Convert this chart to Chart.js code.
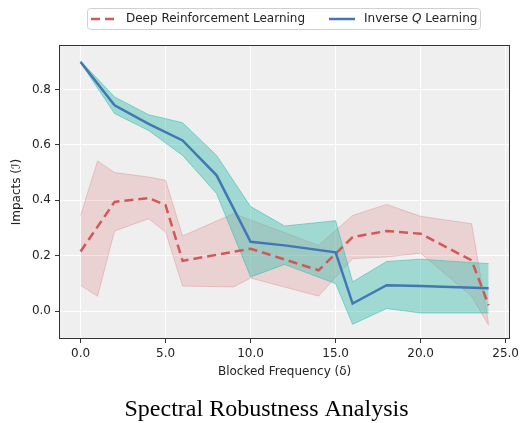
<!DOCTYPE html>
<html>
<head>
<meta charset="utf-8">
<script src="https://cdn.jsdelivr.net/npm/chart.js@4.4.1/dist/chart.umd.min.js"></script>
<style>
    html, body { margin: 0; padding: 0; background: #fff; }
</style>
</head>
<body>
<canvas id="grafico" width="523" height="423"></canvas>
<script>
// Dados
const xTicks = [0, 5, 10, 15, 20, 25];
const yTicks = [0, 0.2, 0.4, 0.6, 0.8];

// Deep Reinforcement Learning (linha tracejada + faixa)
const redLineX = [0, 2, 4, 5, 6, 10, 14, 16, 18, 20, 23, 24];
const redMean = [0.215, 0.394, 0.408, 0.382, 0.181, 0.225, 0.147, 0.267, 0.289, 0.279, 0.183, 0.021];
const redBandX = [0, 1, 2, 4, 5, 6, 9, 10, 14, 16, 18, 20, 23, 24];
const redUpper = [0.345, 0.542, 0.500, 0.484, 0.472, 0.271, 0.352, 0.329, 0.237, 0.345, 0.385, 0.342, 0.315, -0.045];
const redLower = [0.093, 0.053, 0.289, 0.333, 0.285, 0.090, 0.087, 0.119, 0.054, 0.189, 0.195, 0.209, 0.053, -0.052];

// Inverse Q Learning (linha sólida + faixa)
const blueX = [0, 2, 4, 6, 8, 10, 12, 15, 16, 18, 20, 24];
const blueMean = [0.899, 0.743, 0.676, 0.616, 0.490, 0.250, 0.237, 0.212, 0.027, 0.093, 0.090, 0.082];
const blueUpper = [0.903, 0.773, 0.709, 0.680, 0.562, 0.377, 0.307, 0.326, 0.105, 0.179, 0.187, 0.171];
const blueLower = [0.897, 0.713, 0.652, 0.562, 0.424, 0.123, 0.168, 0.099, -0.048, 0.009, -0.007, -0.007];

const pts = (xs, ys) => xs.map((x, i) => ({ x: x, y: ys[i] }));

const colorRed = '#d45757';
const colorBlue = '#4178b4';
const fillRed = 'rgba(214, 95, 95, 0.2)';
const edgeRed = 'rgba(214, 95, 95, 0.28)';
const fillTeal = 'rgba(64, 190, 176, 0.45)';
const edgeTeal = 'rgba(64, 190, 176, 0.6)';

Chart.defaults.font.family = "'DejaVu Sans', sans-serif";
Chart.defaults.font.size = 12;
Chart.defaults.color = '#222';

// Fundo cinza e moldura da área do gráfico
const moldura = {
    id: 'moldura',
    beforeDraw(chart) {
        const { ctx, chartArea: a } = chart;
        ctx.save();
        ctx.fillStyle = '#efefef';
        ctx.fillRect(a.left, a.top, a.right - a.left, a.bottom - a.top);
        ctx.restore();
    },
    afterDatasetsDraw(chart) {
        const { ctx, chartArea: a } = chart;
        ctx.save();
        ctx.strokeStyle = '#333';
        ctx.lineWidth = 1;
        ctx.strokeRect(Math.round(a.left) - 0.5, Math.round(a.top) - 0.5, Math.round(a.right - a.left) + 1, Math.round(a.bottom - a.top) + 1);
        ctx.restore();
    }
};

// Legenda desenhada à mão (para o Q em itálico)
const legenda = {
    id: 'legenda',
    afterDraw(chart) {
        const ctx = chart.ctx;
        const cy = 19;
        ctx.save();
        ctx.beginPath();
        ctx.roundRect(87.5, 8.5, 393, 21, 3);
        ctx.fillStyle = '#fff';
        ctx.fill();
        ctx.strokeStyle = '#d0d0d0';
        ctx.lineWidth = 1;
        ctx.stroke();

        ctx.lineWidth = 2.5;
        ctx.strokeStyle = colorRed;
        ctx.setLineDash([9, 5]);
        ctx.beginPath();
        ctx.moveTo(91, cy); ctx.lineTo(115, cy);
        ctx.stroke();

        ctx.setLineDash([]);
        ctx.strokeStyle = colorBlue;
        ctx.beginPath();
        ctx.moveTo(329, cy); ctx.lineTo(355, cy);
        ctx.stroke();

        ctx.fillStyle = '#222';
        ctx.textBaseline = 'middle';
        ctx.font = "12px 'DejaVu Sans'";
        ctx.fillText('Deep Reinforcement Learning', 126, cy);
        let x = 364;
        ctx.fillText('Inverse ', x, cy);
        x += ctx.measureText('Inverse ').width;
        ctx.font = "italic 12px 'DejaVu Sans'";
        ctx.fillText('Q', x, cy);
        x += ctx.measureText('Q').width;
        ctx.font = "12px 'DejaVu Sans'";
        ctx.fillText(' Learning', x, cy);
        ctx.restore();
    }
};

const linha = { pointRadius: 0, tension: 0 };

new Chart(document.getElementById('grafico'), {
    type: 'line',
    data: {
        datasets: [
            { ...linha, label: 'drl-upper', data: pts(redBandX, redUpper), borderColor: edgeRed, borderWidth: 1, fill: false, order: 4 },
            { ...linha, label: 'drl-lower', data: pts(redBandX, redLower), borderColor: edgeRed, borderWidth: 1, fill: '-1', backgroundColor: fillRed, order: 4 },
            { ...linha, label: 'iql-upper', data: pts(blueX, blueUpper), borderColor: edgeTeal, borderWidth: 1, fill: false, order: 3 },
            { ...linha, label: 'iql-lower', data: pts(blueX, blueLower), borderColor: edgeTeal, borderWidth: 1, fill: '-1', backgroundColor: fillTeal, order: 3 },
            { ...linha, label: 'Deep Reinforcement Learning', data: pts(redLineX, redMean), borderColor: colorRed, borderWidth: 2.5, borderDash: [9, 5], fill: false, order: 2 },
            { ...linha, label: 'Inverse Q Learning', data: pts(blueX, blueMean), borderColor: colorBlue, borderWidth: 2.5, fill: false, order: 1 }
        ]
    },
    options: {
        responsive: false,
        animation: false,
        layout: { padding: { top: 46, right: 1, left: 11, bottom: 0 } },
        plugins: {
            legend: { display: false },
            tooltip: { enabled: false },
            title: {
                display: true,
                position: 'bottom',
                text: 'Spectral Robustness Analysis',
                color: '#000',
                font: { family: "'Liberation Serif', serif", size: 24, weight: 'normal', lineHeight: 1 },
                padding: { top: 13, bottom: 1 }
            }
        },
        scales: {
            x: {
                type: 'linear',
                min: -1.21,
                max: 25.21,
                afterBuildTicks: s => { s.ticks = xTicks.map(v => ({ value: v })); },
                afterFit: s => { s.height = 47; },
                ticks: { callback: v => Number(v).toFixed(1), padding: 4, maxRotation: 0, autoSkip: false, color: '#222' },
                grid: { color: '#fff', lineWidth: 1, tickColor: '#333', tickLength: 5 },
                border: { display: false },
                title: { display: true, text: 'Blocked Frequency (δ)', color: '#222', font: { size: 12 }, padding: { top: 0, bottom: 6 } }
            },
            y: {
                min: -0.0975,
                max: 0.957,
                afterBuildTicks: s => { s.ticks = yTicks.map(v => ({ value: v })); },
                afterFit: s => { s.width = 49; },
                ticks: { callback: v => Number(v).toFixed(1), padding: 4, autoSkip: false, color: '#222' },
                grid: { color: '#fff', lineWidth: 1, tickColor: '#333', tickLength: 5 },
                border: { display: false },
                title: { display: true, text: 'Impacts (ℐ)', color: '#222', font: { size: 12, lineHeight: 1 }, padding: { top: 0, bottom: 0 } }
            }
        }
    },
    plugins: [moldura, legenda]
});
</script>
</body>
</html>
